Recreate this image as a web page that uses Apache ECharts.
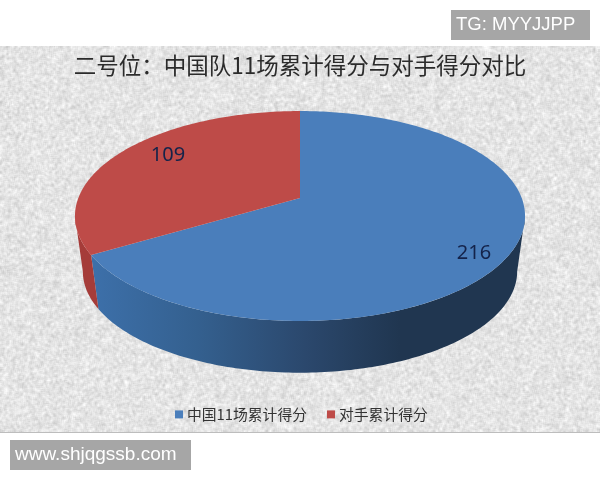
<!DOCTYPE html>
<html><head><meta charset="utf-8">
<style>html,body{margin:0;padding:0;background:#fff}#c{width:600px;height:480px}</style>
<script src="https://cdn.jsdelivr.net/npm/echarts@6/dist/echarts.min.js"></script>
</head><body><div id="c"></div>
<script>
const titleText = '二号位：中国队11场累计得分与对手得分对比';
const sliceNames = ['中国11场累计得分', '对手累计得分'];
const sliceValues = [216, 109];
const watermarkTop = 'TG: MYYJJPP';
const watermarkBottom = 'www.shjqgssb.com';

// Layout of the perspective disc
const L = {cx:300, apex:198, A:101.9, B:221.7, k:0.1716, wallShift:56, wallScale:0.965};
const labelAt = [[474,253],[168,155]];
const topColors = ['#4a7ebb','#be4b48'];
const total = sliceValues.reduce((a,b)=>a+b,0);

function project(deg, bottom){
  const t = deg*Math.PI/180, u=Math.sin(t), v=Math.cos(t), d=1+L.k*v;
  let x = L.B*u/d, y = -L.A*v/d;
  if(bottom){ x*=L.wallScale; y=y*L.wallScale+L.wallShift; }
  return [L.cx+x, L.apex+y];
}
function arc(a,b,bottom){
  const n=Math.max(2,Math.ceil(Math.abs(b-a))), pts=[];
  for(let i=0;i<=n;i++) pts.push(project(a+(b-a)*i/n,bottom));
  return pts;
}
const visA = Math.acos(-L.k)*180/Math.PI, visB = 360-visA;

function makeRender(idx){
  return function(params, api){
    const val = api.value(0);
    let before = 0;
    for(let i=0;i<idx;i++) before += sliceValues[i];
    const a0 = before/total*360, a1 = a0+val/total*360;
    const children = [];
    const w0 = Math.max(a0,visA), w1 = Math.min(a1,visB);
    if(w1>w0){
      const pts = arc(w0,w1,false).concat(arc(w1,w0,true));
      const fill = idx===0
        ? new echarts.graphic.LinearGradient(90,0,520,0,[
            {offset:0,color:'#3d70aa'},{offset:0.25,color:'#34608f'},
            {offset:0.5,color:'#2b486d'},{offset:0.72,color:'#203650'},{offset:1,color:'#203650'}],true)
        : '#a53c39';
      children.push({type:'polygon',shape:{points:pts},style:{fill:fill}});
    }
    const top = [[L.cx,L.apex]].concat(arc(a0,a1,false));
    children.push({type:'polygon',shape:{points:top},style:{fill:topColors[idx]}});
    children.push({type:'text',x:labelAt[idx][0],y:labelAt[idx][1],
      style:{text:String(val),fill:'#14234a',font:'20px "Noto Sans","Open Sans",sans-serif',align:'center',verticalAlign:'middle'}});
    return {type:'group',children:children};
  };
}

function texture(w,h){
  const c=document.createElement('canvas');c.width=w;c.height=h;
  const g=c.getContext('2d'),im=g.createImageData(w,h);
  let s=2463534242;
  const next=()=>{s^=s<<13;s^=s>>>17;s^=s<<5;s>>>=0;return s/4294967296;};
  const raw=new Float32Array(w*h);
  for(let i=0;i<raw.length;i++) raw[i]=next();
  for(let y=0;y<h;y++)for(let x=0;x<w;x++){
    let sum=0,cnt=0;
    for(let dy=-1;dy<=1;dy++)for(let dx=-1;dx<=1;dx++){
      const yy=y+dy,xx=x+dx; if(yy<0||xx<0||yy>=h||xx>=w)continue;
      sum+=raw[yy*w+xx];cnt++;
    }
    const n=sum/cnt-0.5, v=Math.round(228+n*75), p=(y*w+x)*4;
    im.data[p]=v;im.data[p+1]=v;im.data[p+2]=v;im.data[p+3]=255;
  }
  g.putImageData(im,0,0);return c;
}

const chart = echarts.init(document.getElementById('c'),null,{renderer:'canvas'});
chart.setOption({
  animation:false,
  backgroundColor:'#ffffff',
  title:{text:titleText,left:'center',top:49,textStyle:{fontFamily:'"Noto Sans CJK SC"',fontSize:22.5,fontWeight:400,color:'#2b2b2b'}},
  legend:{data:sliceNames,left:170,top:402,icon:'rect',itemWidth:8,itemHeight:8,itemGap:20,
    textStyle:{fontFamily:'"Noto Sans CJK SC"',fontSize:14.8,color:'#333',padding:[0,0,0,-1]}},
  graphic:{elements:[
    {type:'image',z:-10,x:0,y:46,style:{image:texture(600,386),x:0,y:0,width:600,height:386}},
    {type:'rect',z:-9,shape:{x:0,y:432,width:600,height:1},style:{fill:'#bdbdbd'}},
    {type:'rect',z:10,shape:{x:451,y:10,width:139,height:30},style:{fill:'#a6a6a6'}},
    {type:'text',z:11,x:456,y:25,style:{text:watermarkTop,fill:'#fff',font:'18.5px "Liberation Sans",Arial,sans-serif',verticalAlign:'middle'}},
    {type:'rect',z:10,shape:{x:10,y:440,width:181,height:30},style:{fill:'#a6a6a6'}},
    {type:'text',z:11,x:15,y:455,style:{text:watermarkBottom,fill:'#fff',font:'19px "Liberation Sans",Arial,sans-serif',verticalAlign:'middle'}}
  ]},
  series: sliceNames.map((name,i)=>({
    type:'custom',name:name,coordinateSystem:'none',
    itemStyle:{color:topColors[i]},
    renderItem:makeRender(i),
    data:[[sliceValues[i]]]
  }))
});
</script></body></html>
